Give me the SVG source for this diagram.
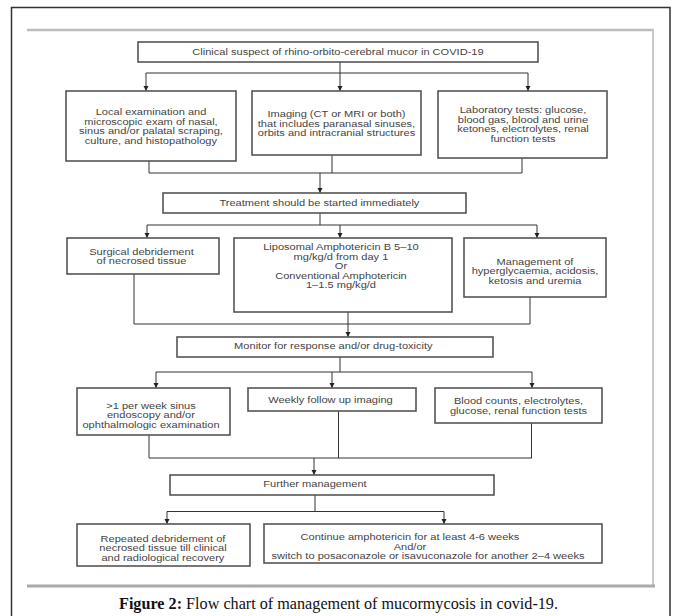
<svg xmlns="http://www.w3.org/2000/svg" width="676" height="616" viewBox="0 0 676 616">
<defs>
<marker id="ah" markerUnits="userSpaceOnUse" markerWidth="6" markerHeight="6" refX="5" refY="3" orient="auto">
<path d="M0,0.5 L5,3 L0,5.5 Z" fill="#222"/>
</marker>
</defs>
<style>
.bx{fill:#fff;stroke:#555;stroke-width:1.6}
.t{font-family:"Liberation Sans",Arial,sans-serif;font-size:9px;fill:#444;text-anchor:middle;transform-box:fill-box;transform-origin:center;transform:scaleX(1.23)}
.c{fill:none;stroke:#333;stroke-width:1}
.a{fill:none;stroke:#333;stroke-width:1;marker-end:url(#ah)}
.cap{font-family:"Liberation Serif","Times New Roman",serif;font-size:17.5px;fill:#111}
</style>
<rect x="0" y="0" width="676" height="616" fill="#fff"/>
<rect x="11.5" y="7.5" width="658.5" height="612" fill="none" stroke="#333" stroke-width="1.5"/>
<g id="frame">
<line x1="27" y1="30" x2="654" y2="30" stroke="#bdbdbd" stroke-width="2.5"/>
<line x1="653" y1="29" x2="653" y2="586" stroke="#c8c8c8" stroke-width="2"/>
<line x1="27" y1="586" x2="655" y2="586" stroke="#aaa" stroke-width="3"/>
</g>

<g id="connectors">
<path class="c" d="M340 62 V73 M146 73 H528"/>
<path class="a" d="M146 73 V91"/>
<path class="a" d="M340 73 V91"/>
<path class="a" d="M528 73 V91"/>
<path class="c" d="M149 161 V173 M332 155 V173 M522 158 V173 M149 173 H522"/>
<path class="a" d="M320 173 V193"/>
<path class="c" d="M320 213 V225 M147 225 H537"/>
<path class="a" d="M147 225 V238"/>
<path class="a" d="M340 225 V238"/>
<path class="a" d="M537 225 V238"/>
<path class="c" d="M134 274 V324 M530 297 V324 M134 324 H530"/>
<path class="a" d="M348 312 V337"/>
<path class="c" d="M340 357 V372 M156 372 H532"/>
<path class="a" d="M156 372 V388"/>
<path class="a" d="M332 372 V388"/>
<path class="a" d="M532 372 V388"/>
<path class="c" d="M149 435 V458 M338.5 411 V458 M531.5 423 V458 M149 458 H532"/>
<path class="a" d="M314 458 V475"/>
<path class="c" d="M315 495 V511.5 M167 511.5 H444"/>
<path class="a" d="M167 511.5 V524"/>
<path class="a" d="M444 511.5 V524"/>
</g>

<g id="n1">
<rect class="bx" x="138" y="42" width="400" height="20"/>
<text class="t" x="338" y="55">Clinical suspect of rhino-orbito-cerebral mucor in COVID-19</text>
</g>
<g id="n2a">
<rect class="bx" x="66" y="91" width="170" height="70"/>
<text class="t" x="151" y="115">Local examination and</text>
<text class="t" x="151" y="124.7">microscopic exam of nasal,</text>
<text class="t" x="151" y="134.4">sinus and/or palatal scraping,</text>
<text class="t" x="151" y="144.1">culture, and histopathology</text>
</g>
<g id="n2b">
<rect class="bx" x="252" y="91" width="169" height="64"/>
<text class="t" x="336.5" y="117.5">Imaging (CT or MRI or both)</text>
<text class="t" x="336.5" y="127">that includes paranasal sinuses,</text>
<text class="t" x="336.5" y="136.5">orbits and intracranial structures</text>
</g>
<g id="n2c">
<rect class="bx" x="438" y="91" width="169" height="67"/>
<text class="t" x="523" y="113.5">Laboratory tests: glucose,</text>
<text class="t" x="523" y="123">blood gas, blood and urine</text>
<text class="t" x="523" y="132.5">ketones, electrolytes, renal</text>
<text class="t" x="523" y="142">function tests</text>
</g>
<g id="n3">
<rect class="bx" x="163" y="193" width="303" height="20"/>
<text class="t" x="319.5" y="206">Treatment should be started immediately</text>
</g>
<g id="n4a">
<rect class="bx" x="67" y="238" width="152" height="36"/>
<text class="t" x="141.5" y="255">Surgical debridement</text>
<text class="t" x="141.5" y="264.5">of necrosed tissue</text>
</g>
<g id="n4b">
<rect class="bx" x="234" y="238" width="218" height="74"/>
<text class="t" x="341" y="250.5">Liposomal Amphotericin B 5–10</text>
<text class="t" x="341" y="260">mg/kg/d from day 1</text>
<text class="t" x="341" y="269.5">Or</text>
<text class="t" x="341" y="279">Conventional Amphotericin</text>
<text class="t" x="341" y="288.5">1–1.5 mg/kg/d</text>
</g>
<g id="n4c">
<rect class="bx" x="464" y="238" width="142" height="59"/>
<text class="t" x="535" y="265">Management of</text>
<text class="t" x="535" y="274.5">hyperglycaemia, acidosis,</text>
<text class="t" x="535" y="284">ketosis and uremia</text>
</g>
<g id="n5">
<rect class="bx" x="177" y="337" width="316" height="20"/>
<text class="t" x="333.5" y="349.5">Monitor for response and/or drug-toxicity</text>
</g>
<g id="n6a">
<rect class="bx" x="77" y="388" width="153" height="47"/>
<text class="t" x="151" y="409">&gt;1 per week sinus</text>
<text class="t" x="151" y="418.5">endoscopy and/or</text>
<text class="t" x="151" y="428">ophthalmologic examination</text>
</g>
<g id="n6b">
<rect class="bx" x="248" y="388" width="168" height="23"/>
<text class="t" x="330.5" y="403.3">Weekly follow up imaging</text>
</g>
<g id="n6c">
<rect class="bx" x="435" y="388" width="167" height="35"/>
<text class="t" x="518.5" y="404.3">Blood counts, electrolytes,</text>
<text class="t" x="518.5" y="414">glucose, renal function tests</text>
</g>
<g id="n7">
<rect class="bx" x="170" y="475" width="324" height="20"/>
<text class="t" x="315" y="487.5">Further management</text>
</g>
<g id="n8a">
<rect class="bx" x="77" y="524" width="173" height="42"/>
<text class="t" x="163" y="542">Repeated debridement of</text>
<text class="t" x="163" y="551.5">necrosed tissue till clinical</text>
<text class="t" x="163" y="561">and radiological recovery</text>
</g>
<g id="n8b">
<rect class="bx" x="264" y="524" width="338" height="39"/>
<text class="t" x="410" y="540.5">Continue amphotericin for at least 4-6 weeks</text>
<text class="t" x="410" y="550">And/or</text>
<text class="t" x="428" y="559.5">switch to posaconazole or isavuconazole for another 2–4 weeks</text>
</g>
<text class="cap" x="338.5" y="609" text-anchor="middle" textLength="439" lengthAdjust="spacingAndGlyphs"><tspan font-weight="bold">Figure 2:</tspan> Flow chart of management of mucormycosis in covid-19.</text>
</svg>
